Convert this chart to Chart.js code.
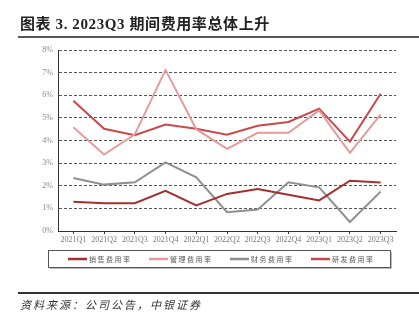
<!DOCTYPE html>
<html>
<head>
<meta charset="utf-8">
<script src="https://cdn.jsdelivr.net/npm/chart.js@4"></script>
<style>
  html, body { margin: 0; padding: 0; background: #fff; }
  #wrap { position: relative; width: 419px; height: 327px; overflow: hidden; }
  #chart { position: absolute; left: 0; top: 0; }
  .title {
    position: absolute; left: 20px; top: 15px; line-height: 18px;
    font-family: "Liberation Serif", "Noto Sans CJK SC", serif;
    font-size: 15px; font-weight: bold; color: #222; letter-spacing: 0.6px; white-space: nowrap;
  }
  .rule { position: absolute; left: 18px; right: 0; background: #555; }
  .source {
    position: absolute; left: 20px; top: 297px; line-height: 14px;
    font-family: "Noto Sans CJK SC", sans-serif; font-style: italic;
    font-size: 11px; color: #333; letter-spacing: 2px; white-space: nowrap;
  }
</style>
</head>
<body>
<div id="wrap">
  <canvas id="chart" width="419" height="327"></canvas>
  <div class="title">图表 3. 2023Q3 期间费用率总体上升</div>
  <div class="rule" style="top:36px;height:2px"></div>
  <div class="rule" style="top:292px;height:1.5px;background:#333"></div>
  <div class="source">资料来源：公司公告，中银证券</div>
</div>
<script>
// 季度
const quarters = ['2021Q1', '2021Q2', '2021Q3', '2021Q4', '2022Q1', '2022Q2',
                  '2022Q3', '2022Q4', '2023Q1', '2023Q2', '2023Q3'];

// 各项费用率 (%)
const salesRate = [1.29, 1.23, 1.23, 1.78, 1.13, 1.64, 1.86, 1.60, 1.35, 2.22, 2.14];
const adminRate = [4.59, 3.38, 4.27, 7.12, 4.50, 3.63, 4.34, 4.34, 5.33, 3.45, 5.15];
const financeRate = [2.34, 2.05, 2.15, 3.03, 2.37, 0.83, 0.95, 2.15, 1.93, 0.40, 1.74];
const rdRate = [5.76, 4.52, 4.23, 4.71, 4.52, 4.26, 4.65, 4.82, 5.41, 3.95, 6.07];

const yTicks = [0, 1, 2, 3, 4, 5, 6, 7, 8];

const series = [
    { label: '销售费用率', data: salesRate, color: '#a2302f' },
    { label: '管理费用率', data: adminRate, color: '#e39c9a' },
    { label: '财务费用率', data: financeRate, color: '#8f8f8f' },
    { label: '研发费用率', data: rdRate, color: '#c9484a' }
];

// 底部带边框的图例
const boxLegend = {
    id: 'boxLegend',
    afterDraw(chart) {
        const ctx = chart.ctx;
        const left = 48, top = 250, width = 342, height = 17;
        ctx.save();
        ctx.strokeStyle = '#555';
        ctx.lineWidth = 1;
        ctx.strokeRect(left + 0.5, top + 0.5, width, height);
        ctx.strokeStyle = '#bbb';
        ctx.beginPath();
        ctx.moveTo(left + width + 1.5, top + 2);
        ctx.lineTo(left + width + 1.5, top + height + 1.5);
        ctx.lineTo(left + 2, top + height + 1.5);
        ctx.stroke();

        const midY = top + height / 2 + 0.5;
        ctx.font = '7px "Noto Sans CJK SC"';
        ctx.letterSpacing = '1.5px';
        ctx.textBaseline = 'middle';
        chart.data.datasets.forEach((ds, i) => {
            const x0 = left + 20 + i * 81;
            ctx.strokeStyle = ds.borderColor;
            ctx.lineWidth = 2.5;
            ctx.beginPath();
            ctx.moveTo(x0, midY);
            ctx.lineTo(x0 + 19, midY);
            ctx.stroke();
            ctx.fillStyle = '#555';
            ctx.fillText(ds.label, x0 + 21, midY);
        });
        ctx.restore();
    }
};

new Chart(document.getElementById('chart'), {
    type: 'line',
    data: {
        labels: quarters,
        datasets: series.map(s => ({
            label: s.label,
            data: s.data,
            borderColor: s.color,
            backgroundColor: s.color,
            borderWidth: 2,
            pointRadius: 0,
            tension: 0
        }))
    },
    options: {
        responsive: false,
        animation: false,
        layout: { padding: { left: 10, right: 23, top: 50, bottom: 79 } },
        plugins: {
            legend: { display: false },
            tooltip: { enabled: false }
        },
        scales: {
            x: {
                offset: true,
                afterFit: s => { s.height = 17; },
                grid: { drawOnChartArea: false, drawTicks: true, tickLength: 3, tickColor: '#333' },
                border: { color: '#333', width: 1 },
                ticks: {
                    color: '#777', padding: 1, maxRotation: 0, autoSkip: false,
                    font: { family: 'Liberation Serif', size: 8 }
                }
            },
            y: {
                min: 0,
                max: 8,
                afterFit: s => { s.width = 48; },
                afterBuildTicks: s => { s.ticks = yTicks.map(v => ({ value: v })); },
                grid: { color: '#555', lineWidth: 1, drawTicks: false },
                border: { color: '#333', width: 1, dash: [3, 2] },
                ticks: {
                    color: '#888', padding: 5,
                    font: { family: 'Liberation Serif', size: 8 },
                    callback: v => v + '%'
                }
            }
        }
    },
    plugins: [boxLegend]
});
</script>
</body>
</html>
